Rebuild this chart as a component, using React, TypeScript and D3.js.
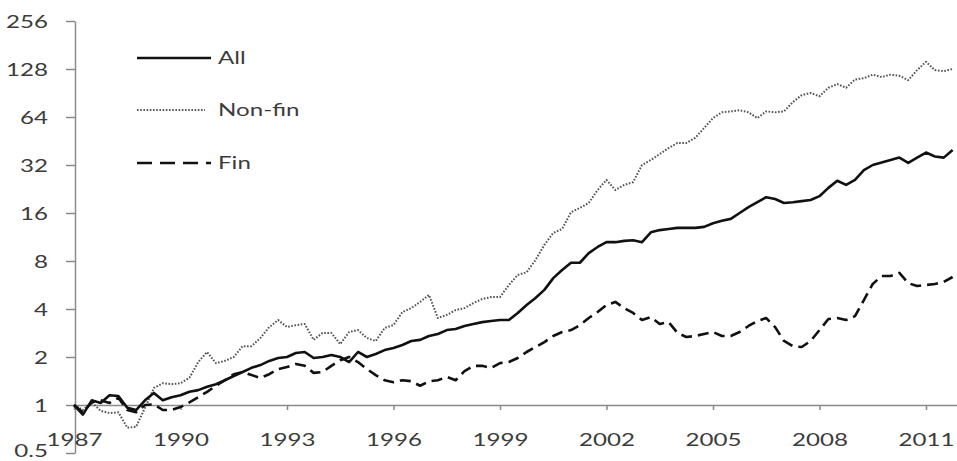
import React, { useEffect, useRef } from 'react';
import * as d3 from 'd3';

// quarterly index levels, 1987Q1 .. 2011Q4 (log2 scale in the chart)
const quarters = d3.range(1987, 2012, 0.25);

const allValues = [
  1.00, 0.87, 1.07, 1.03, 1.15, 1.14, 0.96, 0.93, 1.07, 1.19,
  1.07, 1.12, 1.15, 1.21, 1.24, 1.30, 1.35, 1.43, 1.52, 1.61,
  1.71, 1.78, 1.89, 1.97, 2.00, 2.12, 2.15, 1.97, 2.00, 2.06,
  2.00, 1.86, 2.15, 2.00, 2.09, 2.21, 2.28, 2.38, 2.52, 2.56,
  2.71, 2.79, 2.95, 3.00, 3.13, 3.22, 3.31, 3.36, 3.41, 3.41,
  3.78, 4.24, 4.69, 5.27, 6.25, 7.03, 7.80, 7.80, 8.97, 9.80,
  10.5, 10.5, 10.7, 10.8, 10.5, 12.1, 12.5, 12.7, 12.9, 12.9,
  12.9, 13.1, 13.8, 14.3, 14.7, 16.0, 17.4, 18.7, 20.1, 19.6,
  18.5, 18.7, 19.0, 19.3, 20.4, 23.0, 25.5, 24.0, 25.8, 29.7,
  32.0, 33.2, 34.4, 35.6, 33.0, 35.6, 38.3, 36.2, 35.6, 39.7
];

const nonFinValues = [
  1.00, 0.93, 1.04, 0.92, 0.89, 0.90, 0.72, 0.73, 0.96, 1.28,
  1.37, 1.35, 1.37, 1.48, 1.86, 2.15, 1.83, 1.89, 2.00, 2.34,
  2.34, 2.63, 3.08, 3.41, 3.08, 3.17, 3.22, 2.56, 2.83, 2.83,
  2.41, 2.87, 2.95, 2.63, 2.52, 3.04, 3.17, 3.83, 4.05, 4.43,
  4.90, 3.51, 3.67, 3.94, 4.05, 4.36, 4.62, 4.75, 4.75, 5.66,
  6.54, 6.80, 8.12, 10.1, 12.0, 12.7, 16.2, 17.2, 18.5, 22.3,
  25.8, 22.3, 24.0, 25.0, 32.0, 34.4, 37.5, 40.9, 44.0, 44.0,
  47.4, 54.6, 63.0, 68.5, 69.4, 70.5, 68.5, 63.0, 69.4, 68.5,
  69.4, 79.4, 87.8, 90.5, 86.4, 97.6, 103, 97.6, 110, 112,
  118, 114, 118, 116, 109, 126, 142, 126, 124, 128
];

const finValues = [
  1.00, 0.90, 1.04, 1.07, 1.03, 1.11, 0.93, 0.90, 1.00, 1.01,
  0.93, 0.93, 0.97, 1.04, 1.12, 1.21, 1.32, 1.43, 1.56, 1.61,
  1.54, 1.48, 1.56, 1.68, 1.73, 1.81, 1.76, 1.59, 1.61, 1.76,
  1.91, 2.00, 1.86, 1.68, 1.54, 1.43, 1.39, 1.43, 1.41, 1.32,
  1.41, 1.43, 1.50, 1.43, 1.63, 1.76, 1.76, 1.71, 1.83, 1.86,
  1.97, 2.15, 2.31, 2.48, 2.71, 2.87, 2.95, 3.17, 3.51, 3.83,
  4.24, 4.43, 4.05, 3.78, 3.41, 3.56, 3.22, 3.31, 2.83, 2.67,
  2.71, 2.79, 2.87, 2.71, 2.71, 2.87, 3.13, 3.36, 3.51, 3.08,
  2.52, 2.34, 2.31, 2.52, 2.95, 3.46, 3.51, 3.41, 3.61, 4.55,
  5.74, 6.44, 6.44, 6.74, 5.81, 5.57, 5.66, 5.74, 5.91, 6.35
];

const seriesNames = ['All', 'Non-fin', 'Fin'];
const yTicks = [0.5, 1, 2, 4, 8, 16, 32, 64, 128, 256];
const xTicks = [1987, 1990, 1993, 1996, 1999, 2002, 2005, 2008, 2011];

const App = () => {
  const ref = useRef(null);

  useEffect(() => {
    const width = 957;
    const height = 461;
    const stretch = 1.42;
    const font = 'Lato, "Open Sans", sans-serif';
    const textColor = '#3c3c3c';
    const axisColor = '#8a8a8a';

    const svg = d3.select(ref.current);
    svg.selectAll('*').remove();
    svg.attr('width', width).attr('height', height);

    const x = d3.scaleLinear().domain([1987, 2012]).range([74, 961.5]);
    const y = d3.scaleLog().base(2).domain([0.5, 256]).range([453, 21]);

    // y axis
    const yAxis = svg.append('g')
      .attr('transform', 'translate(75,0)')
      .call(d3.axisLeft(y).tickValues(yTicks).tickFormat(d3.format('')).tickSize(9).tickSizeOuter(0));
    yAxis.select('.domain').attr('stroke', axisColor).attr('stroke-width', 1.5);
    yAxis.selectAll('.tick line').attr('stroke', axisColor).attr('stroke-width', 1.5);
    yAxis.selectAll('.tick text')
      .attr('x', 0)
      .attr('dy', '0.36em')
      // lowest label sits tight against the bottom edge, nudge it up a little
      .attr('transform', d => `translate(-27,${d < 1 ? -3 : 0}) scale(${stretch},1)`)
      .style('font-family', font)
      .style('font-size', '17px')
      .attr('fill', textColor);

    // x axis crossing at 1
    const xAxis = svg.append('g')
      .attr('transform', `translate(0,${y(1)})`)
      .call(d3.axisBottom(x).tickValues(xTicks).tickFormat(d3.format('d')).tickSize(5).tickSizeOuter(0));
    xAxis.select('.domain').attr('stroke', axisColor).attr('stroke-width', 1.5);
    xAxis.selectAll('.tick line').attr('stroke', axisColor).attr('stroke-width', 1.5);
    xAxis.selectAll('.tick text')
      .attr('y', 0)
      .attr('dy', '0.36em')
      .attr('transform', `translate(0,35) scale(${stretch},1)`)
      .style('font-family', font)
      .style('font-size', '17px')
      .attr('fill', textColor);

    const line = d3.line()
      .x(d => x(d[0]))
      .y(d => y(d[1]));

    const styles = [
      { stroke: '#111', width: 2.6, dash: null },
      { stroke: '#555', width: 2, dash: '1.6,1.6' },
      { stroke: '#111', width: 2.6, dash: '11,6' }
    ];
    const seriesValues = [allValues, nonFinValues, finValues];

    // draw Non-fin first, then Fin, then All on top
    [1, 2, 0].forEach(k => {
      svg.append('path')
        .datum(quarters.map((q, i) => [q, seriesValues[k][i]]))
        .attr('d', line)
        .attr('fill', 'none')
        .attr('stroke', styles[k].stroke)
        .attr('stroke-width', styles[k].width)
        .attr('stroke-dasharray', styles[k].dash)
        .attr('stroke-linejoin', 'round');
    });

    // legend
    const legendY = [58, 110, 163];
    const legend = svg.append('g');
    seriesNames.forEach((name, k) => {
      legend.append('line')
        .attr('x1', 137)
        .attr('x2', k === 1 ? 205 : 211)
        .attr('y1', legendY[k])
        .attr('y2', legendY[k])
        .attr('stroke', styles[k].stroke)
        .attr('stroke-width', styles[k].width)
        .attr('stroke-dasharray', k === 2 ? '15,8' : styles[k].dash);
      legend.append('text')
        .attr('dy', '0.36em')
        .attr('transform', `translate(218,${legendY[k]}) scale(${stretch},1)`)
        .style('font-family', font)
        .style('font-size', '17px')
        .attr('fill', textColor)
        .text(name);
    });
  }, []);

  return (
    <svg ref={ref} style={{ position: 'absolute', left: 0, top: 0, background: '#fff' }}></svg>
  );
};

export default App;
